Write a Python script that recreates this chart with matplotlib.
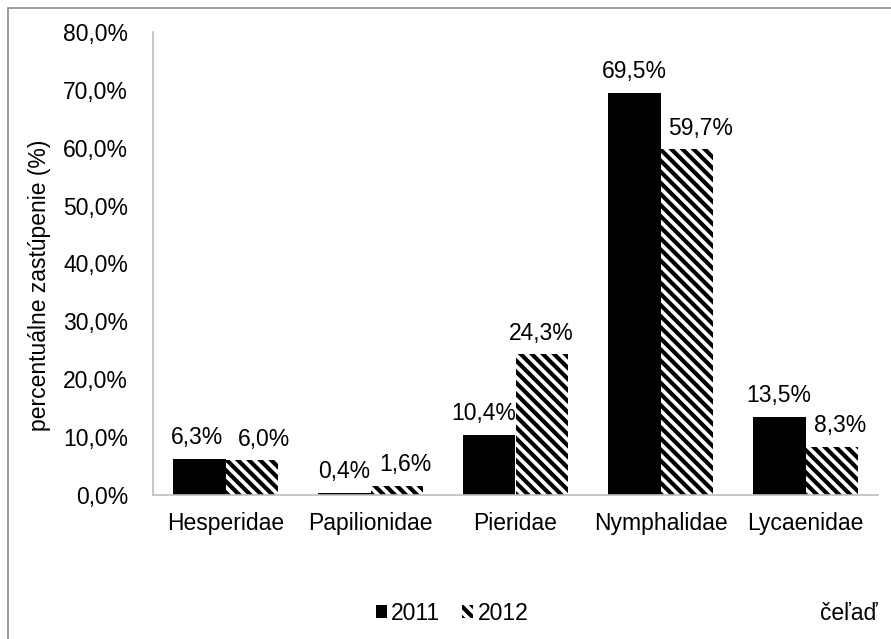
import matplotlib
matplotlib.use("Agg")
import matplotlib.pyplot as plt
import numpy as np
from matplotlib.patches import Rectangle
from matplotlib.ticker import FuncFormatter

plt.rcParams['font.family'] = ['Liberation Sans', 'DejaVu Sans']
plt.rcParams['hatch.linewidth'] = 3.0

families = ["Hesperidae", "Papilionidae", "Pieridae", "Nymphalidae", "Lycaenidae"]
vals_2011 = [6.3, 0.4, 10.4, 69.5, 13.5]
vals_2012 = [6.0, 1.6, 24.3, 59.7, 8.3]
years = ["2011", "2012"]

# horizontal nudges (px) of the data labels, as placed in the original
shift_2011 = [-2, 0, -5, 0, 0]
shift_2012 = [12, 8, -1, 14, 8]

FS = 16.5
PX = 72 / 100  # pixels -> points


def pct(v):
    return ("%.1f%%" % v).replace(".", ",")


fig = plt.figure(figsize=(8.91, 6.39), dpi=100)
# outer chart border (cut off at right/bottom like the reference)
fig.patches.append(Rectangle((8 / 891, -0.05), 1.0, 1 - 8 / 639 + 0.05,
                             transform=fig.transFigure, fill=False,
                             edgecolor="#8c8c8c", linewidth=1.2))

ax = fig.add_axes([153 / 891, 1 - 495 / 639, (878 - 153) / 891, (495 - 32) / 639])

x = np.arange(len(families))
w = 0.365
b1 = ax.bar(x - w / 2, vals_2011, w, color="black", label=years[0])
b2 = ax.bar(x + w / 2, vals_2012, w, color="white", edgecolor="black",
            linewidth=0, hatch="\\\\\\", label=years[1])

for bars, vals, shifts in [(b1, vals_2011, shift_2011), (b2, vals_2012, shift_2012)]:
    for rect, v, dx in zip(bars, vals, shifts):
        ax.annotate(pct(v), (rect.get_x() + rect.get_width() / 2, v),
                    xytext=(dx * PX, 21 * PX), textcoords="offset points",
                    ha="center", va="center", fontsize=FS)

ax.set_xlim(-0.5, len(families) - 0.5)
ax.set_ylim(0, 80)
ax.set_yticks(np.arange(0, 81, 10))
ax.yaxis.set_major_formatter(FuncFormatter(lambda v, p: pct(v)))
ax.set_xticks(x)
ax.set_xticklabels(families)
ax.tick_params(axis="both", length=0, labelsize=FS)
ax.tick_params(axis="y", pad=18)
ax.tick_params(axis="x", pad=12)

for s in ["top", "right"]:
    ax.spines[s].set_visible(False)
for s in ["left", "bottom"]:
    ax.spines[s].set_color("#bfbfbf")
    ax.spines[s].set_linewidth(1.2)

fig.text(40 / 891, 1 - 285 / 639, "percentuálne zastúpenie (%)", rotation=90,
         ha="center", va="center", fontsize=FS)

leg = fig.legend(handles=[b1, b2], labels=years, loc="center",
                 bbox_to_anchor=(452 / 891, 1 - 613 / 639), ncol=2,
                 frameon=False, fontsize=FS, handlelength=0.48,
                 handleheight=0.48, handletextpad=0.2, columnspacing=0.95)

fig.text(849 / 891, 1 - 613 / 639, "čeľaď", ha="center", va="center", fontsize=FS)

fig.savefig("out.png", dpi=100)
